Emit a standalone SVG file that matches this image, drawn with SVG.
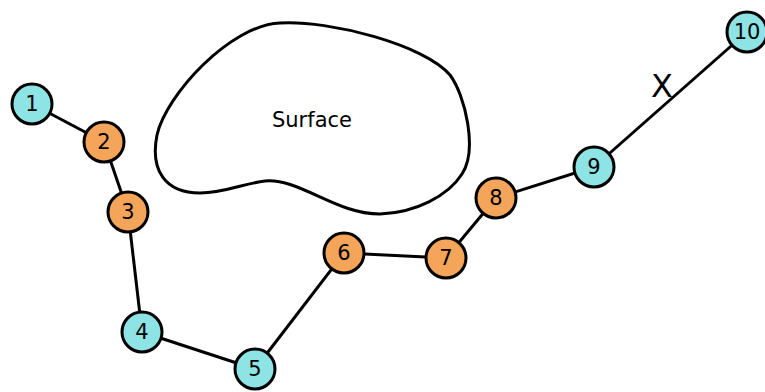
<svg xmlns="http://www.w3.org/2000/svg" width="765" height="392" viewBox="0 0 765 392">
<style>
.e{stroke:#000;stroke-width:3;fill:none}
.c{fill:#8EE4E4;stroke:#000;stroke-width:3}
.o{fill:#F5A55A;stroke:#000;stroke-width:3}
.t{font-family:"DejaVu Sans",sans-serif;font-size:21px;text-anchor:middle;dominant-baseline:central;fill:#000}
</style>
<rect width="765" height="392" fill="#fff"/>
<g id="surface">
<path class="e" d="M 280 23 C 330 20, 425 45, 450 75 C 465 95, 478 150, 462 174 C 448 196, 415 213, 380 214 C 335 214, 300 178, 265 181 C 245 183, 225 193, 200 193 C 165 193, 150 170, 157 135 C 166 95, 230 25, 280 23 Z"/>
<text class="t" x="312" y="120">Surface</text>
</g>
<g id="edges">
<line class="e" x1="32" y1="104" x2="104" y2="142"/>
<line class="e" x1="104" y1="142" x2="128" y2="212"/>
<line class="e" x1="128" y1="212" x2="142" y2="332"/>
<line class="e" x1="142" y1="332" x2="255" y2="369"/>
<line class="e" x1="255" y1="369" x2="344" y2="253"/>
<line class="e" x1="344" y1="253" x2="446" y2="258"/>
<line class="e" x1="446" y1="258" x2="496" y2="198"/>
<line class="e" x1="496" y1="198" x2="594" y2="167"/>
<line class="e" x1="594" y1="167" x2="747" y2="32"/>
<text x="662" y="86" font-family="DejaVu Sans,sans-serif" font-size="32" text-anchor="middle" dominant-baseline="central">X</text>
</g>
<g id="n1"><circle class="c" cx="32" cy="104" r="20"/><text class="t" x="32" y="104">1</text></g>
<g id="n2"><circle class="o" cx="104" cy="142" r="20"/><text class="t" x="104" y="142">2</text></g>
<g id="n3"><circle class="o" cx="128" cy="212" r="20"/><text class="t" x="128" y="212">3</text></g>
<g id="n4"><circle class="c" cx="142" cy="332" r="20"/><text class="t" x="142" y="332">4</text></g>
<g id="n5"><circle class="c" cx="255" cy="369" r="20"/><text class="t" x="255" y="369">5</text></g>
<g id="n6"><circle class="o" cx="344" cy="253" r="20"/><text class="t" x="344" y="253">6</text></g>
<g id="n7"><circle class="o" cx="446" cy="258" r="20"/><text class="t" x="446" y="258">7</text></g>
<g id="n8"><circle class="o" cx="496" cy="198" r="20"/><text class="t" x="496" y="198">8</text></g>
<g id="n9"><circle class="c" cx="594" cy="167" r="20"/><text class="t" x="594" y="167">9</text></g>
<g id="n10"><circle class="c" cx="747" cy="32" r="20"/><text class="t" x="747" y="32">10</text></g>
</svg>
